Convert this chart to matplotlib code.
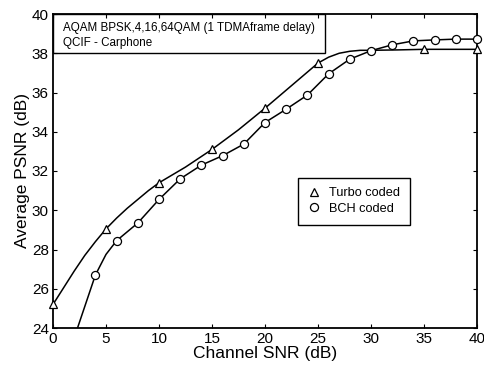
import matplotlib
matplotlib.use("Agg")
import matplotlib.pyplot as plt
from matplotlib.lines import Line2D
from matplotlib.patches import Rectangle

plt.rcParams['font.family'] = ['Liberation Sans', 'DejaVu Sans']

# Turbo coded: marker points
turbo_x = [0, 5, 10, 15, 20, 25, 35, 40]
turbo_y = [25.2, 29.05, 31.4, 33.1, 35.2, 37.5, 38.2, 38.2]
# Turbo coded: smooth curve
turbo_curve_x = [0, 1, 2, 3, 4, 5, 6, 7, 8, 9, 10, 12.5, 15, 17.5, 20, 22.5, 25, 26, 27, 28, 29, 30, 32.5, 35, 37.5, 40]
turbo_curve_y = [25.2, 26.05, 26.9, 27.7, 28.4, 29.05, 29.6, 30.1, 30.55, 31.0, 31.4, 32.2, 33.1, 34.1, 35.2, 36.35, 37.5, 37.8, 38.0, 38.1, 38.15, 38.15, 38.17, 38.2, 38.2, 38.2]

# BCH coded: marker points
bch_x = [4, 6, 8, 10, 12, 14, 16, 18, 20, 22, 24, 26, 28, 30, 32, 34, 36, 38, 40]
bch_y = [26.7, 28.45, 29.35, 30.55, 31.6, 32.3, 32.78, 33.37, 34.47, 35.15, 35.87, 36.95, 37.7, 38.13, 38.43, 38.63, 38.68, 38.72, 38.72]
# BCH coded: curve (extends below the axis at low SNR)
bch_curve_x = [2.0, 4, 5, 6, 8, 10, 12, 14, 16, 18, 20, 22, 24, 26, 28, 30, 32, 34, 36, 38, 40]
bch_curve_y = [23.5, 26.7, 27.75, 28.45, 29.35, 30.55, 31.6, 32.3, 32.78, 33.37, 34.47, 35.15, 35.87, 36.95, 37.7, 38.13, 38.43, 38.63, 38.68, 38.72, 38.72]

xticks = [0, 5, 10, 15, 20, 25, 30, 35, 40]
yticks = [24, 26, 28, 30, 32, 34, 36, 38, 40]

title_lines = ["AQAM BPSK,4,16,64QAM (1 TDMAframe delay)", "QCIF - Carphone"]
legend_labels = ["Turbo coded", "BCH coded"]

fig = plt.figure(figsize=(4.84, 3.65), dpi=100)
ax = fig.add_axes([53/484, 1-328/365, (477-53)/484, (328-14)/365])

lw = 1.1
ax.plot(turbo_curve_x, turbo_curve_y, color='black', lw=lw)
ax.plot(turbo_x, turbo_y, linestyle='none', marker='^', ms=5.5, mfc='white', mec='black', mew=0.9, clip_on=False, zorder=3)
ax.plot(bch_curve_x, bch_curve_y, color='black', lw=lw)
ax.plot(bch_x, bch_y, linestyle='none', marker='o', ms=5.8, mfc='white', mec='black', mew=0.9, clip_on=False, zorder=3)

ax.set_xlim(0, 40)
ax.set_ylim(24, 40)
ax.set_xticks(xticks)
ax.set_yticks(yticks)
ax.tick_params(direction='in', length=3, width=0.8, top=True, right=True, labelsize=11, pad=3)
for s in ax.spines.values():
    s.set_linewidth(1.3)

ax.set_xlabel("Channel SNR (dB)", fontsize=12.5, labelpad=0)
ax.set_ylabel("Average PSNR (dB)", fontsize=12.5, labelpad=1)

# title box in upper-left
ax.text(0.95, 39.29, title_lines[0], ha='left', va='center', fontsize=8.4)
ax.text(0.95, 38.52, title_lines[1], ha='left', va='center', fontsize=8.4)
ax.add_patch(Rectangle((0, 38), (325-53)/424*40, 2, fill=False, ec='black', lw=1.0, clip_on=False))

handles = [Line2D([], [], linestyle='none', marker='^', ms=5.5, mfc='white', mec='black', mew=0.9),
           Line2D([], [], linestyle='none', marker='o', ms=5.8, mfc='white', mec='black', mew=0.9)]
leg = ax.legend(handles, legend_labels, loc='center', bbox_to_anchor=((354-53)/424, 1-(201-14)/314),
                fontsize=9.2, frameon=True, fancybox=False, edgecolor='black', framealpha=1,
                handlelength=1.0, handletextpad=0.7, borderpad=0.75, labelspacing=0.3, borderaxespad=0)
leg.get_frame().set_linewidth(1.0)

fig.savefig("out.png", dpi=100)
